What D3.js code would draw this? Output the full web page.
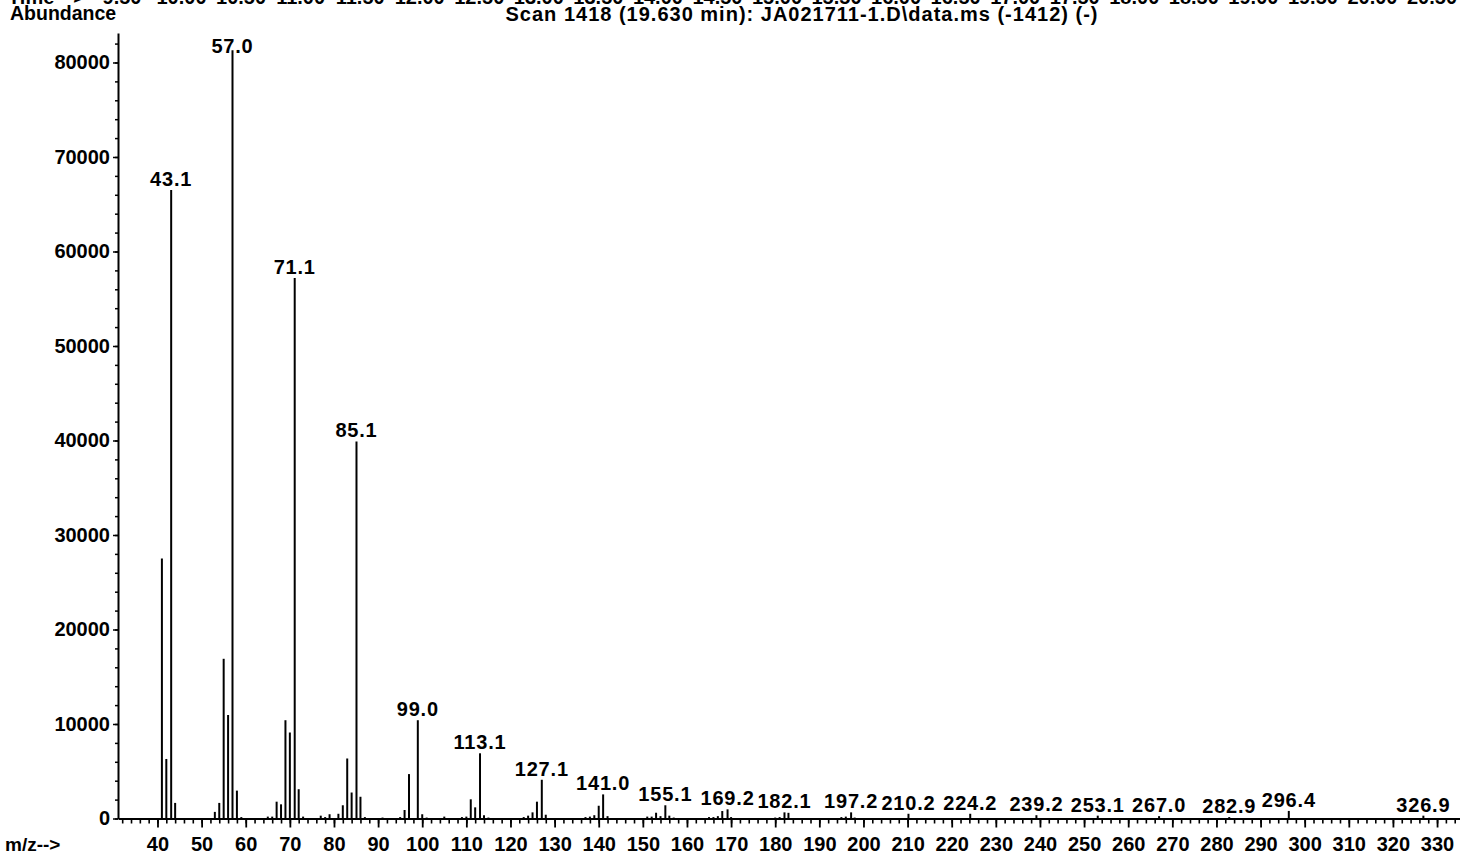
<!DOCTYPE html>
<html><head><meta charset="utf-8">
<script src="https://cdn.jsdelivr.net/npm/d3@7"></script>
<style>
body{margin:0;background:#fff}
svg text{font-family:"Liberation Sans",Arial,sans-serif;font-weight:bold;fill:#000}
</style></head><body>
<svg id="c" width="1460" height="862"></svg>
<script>
// ---- data ----
const mzValues = [41,42,43.1,44,53,54,55,56,57.0,58,59,65,66,67,68,69,70,71.1,72,73,77,78,79,81,82,83,84,85.1,86,87,91,95,96,97,99.0,100,101,105,109,110,111,112,113.1,114,115,123,124,125,126,127.1,128,137,138,139,140,141.0,142,151,152,153,154,155.1,156,157,165,166,167,168,169.2,170,180,181,182.1,183,195,196,197.2,198,210.2,224.2,239.2,253.1,267.0,282.9,296.4,326.9];
const abundances = [27500,6300,66500,1650,700,1650,16900,10950,81300,2950,150,200,200,1780,1500,10400,9100,57200,3100,200,300,150,450,500,1400,6350,2750,39900,2300,150,100,150,900,4700,10400,450,100,200,150,200,2030,1180,6900,350,100,150,300,650,1780,4100,400,150,200,350,1350,2550,250,200,200,610,250,1400,300,100,150,150,250,790,970,150,100,150,650,600,150,200,650,100,500,500,350,300,250,150,800,300];
const labeledMz = [43.1,57.0,71.1,85.1,99.0,113.1,127.1,141.0,155.1,169.2,182.1,197.2,210.2,224.2,239.2,253.1,267.0,282.9,296.4,326.9];
const yTickValues = [0,10000,20000,30000,40000,50000,60000,70000,80000];
const xTickValues = [40,50,60,70,80,90,100,110,120,130,140,150,160,170,180,190,200,210,220,230,240,250,260,270,280,290,300,310,320,330];
const timeTicks = ["9.50","10.00","10.50","11.00","11.50","12.00","12.50","13.00","13.50","14.00","14.50","15.00","15.50","16.00","16.50","17.00","17.50","18.00","18.50","19.00","19.50","20.00","20.50"];
const titleText = "Scan 1418 (19.630 min): JA021711-1.D\\data.ms (-1412) (-)";

// ---- chart ----
const svg = d3.select("#c");
const x = d3.scaleLinear().domain([31.05, 335.2]).range([118, 1460]);
const y = d3.scaleLinear().domain([0, 83120]).range([818.5, 33]);
const tScale = d3.scaleLinear().domain([9.5, 20.5]).range([122, 1432]);

// top (cut-off) time row
svg.append("text").attr("x", 8).attr("y", 4).style("font-size","20px").text("Time -->");
svg.selectAll("text.time").data(timeTicks).join("text").attr("class","time")
  .attr("x", d => tScale(+d)).attr("y", 4).attr("text-anchor","middle")
  .style("font-size","20px").text(d => d);

svg.append("text").attr("x", 10).attr("y", 20).style("font-size","19.5px").text("Abundance");
svg.append("text").attr("x", 802).attr("y", 21).attr("text-anchor","middle")
  .style("font-size","20px").style("letter-spacing","1px").text(titleText);
svg.append("text").attr("x", 5).attr("y", 851).style("font-size","19px").text("m/z-->");

// y axis
const yMinor = d3.range(0, 82001, 2000);
svg.append("g").attr("transform","translate(118,0)")
  .call(d3.axisLeft(y).tickValues(yMinor).tickSize(3).tickFormat("").tickSizeOuter(0))
  .call(g => g.selectAll("line").attr("stroke","#000").attr("stroke-width",1.5))
  .call(g => g.select(".domain").attr("stroke","#000").attr("stroke-width",2));
svg.append("g").attr("transform","translate(118,0)")
  .call(d3.axisLeft(y).tickValues(yTickValues).tickFormat(d3.format("d")).tickSize(5).tickPadding(3).tickSizeOuter(0))
  .call(g => g.select(".domain").remove())
  .call(g => g.selectAll("line").attr("stroke","#000").attr("stroke-width",1.5))
  .call(g => g.selectAll("text").style("font-size","20px").style("font-family",null).attr("fill","#000"));

// x axis
const xMinor = d3.range(32, 335, 2);
svg.append("g").attr("transform",`translate(0,${y(0)})`)
  .call(d3.axisBottom(x).tickValues(xMinor).tickSize(5).tickFormat("").tickSizeOuter(0))
  .call(g => g.selectAll("line").attr("stroke","#000").attr("stroke-width",1.6))
  .call(g => g.select(".domain").attr("stroke","#000").attr("stroke-width",2));
svg.append("g").attr("transform",`translate(0,${y(0)})`)
  .call(d3.axisBottom(x).tickValues(xTickValues).tickSize(9).tickPadding(9).tickSizeOuter(0))
  .call(g => g.select(".domain").remove())
  .call(g => g.selectAll("line").attr("stroke","#000").attr("stroke-width",1.8))
  .call(g => g.selectAll("text").style("font-size","20px").style("font-family",null).attr("fill","#000"));

// peaks
const peaks = mzValues.map((m,i) => ({mz:m, v:abundances[i]}));
svg.append("g").selectAll("line").data(peaks).join("line")
  .attr("x1", d => x(d.mz)).attr("x2", d => x(d.mz))
  .attr("y1", y(0)).attr("y2", d => y(d.v))
  .attr("stroke","#000").attr("stroke-width",2);

// labels
const labeled = peaks.filter(d => labeledMz.includes(d.mz));
svg.append("g").selectAll("text").data(labeled).join("text")
  .attr("x", d => x(d.mz)).attr("y", d => Math.max(y(d.v) - 4, 53))
  .attr("text-anchor","middle").style("font-size","20px").style("letter-spacing","0.8px")
  .text(d => d.mz.toFixed(1));
</script>
</body></html>
